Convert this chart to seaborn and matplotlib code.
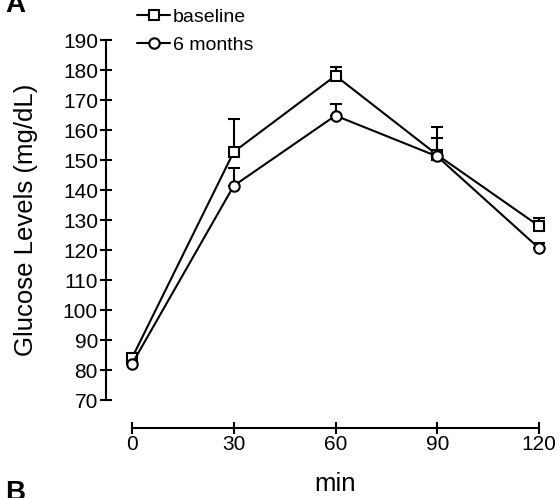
import numpy as np
import pandas as pd
import matplotlib
matplotlib.use("Agg")
import matplotlib.pyplot as plt
from matplotlib.lines import Line2D
import seaborn as sns

# data
minutes = [0, 30, 60, 90, 120]
baseline = [84, 152.7, 178.1, 151.7, 128]
baseline_err = [0, 11, 2.8, 9.2, 2.6]
six_months = [82, 141.4, 164.8, 151.2, 120.6]
six_months_err = [0, 5.9, 3.8, 6, 1.8]
y_ticks = list(range(70, 191, 10))

sns.set_style("ticks")
plt.rcParams['font.family'] = ['Liberation Sans', 'DejaVu Sans']
plt.rcParams['text.color'] = 'black'
plt.rcParams['axes.labelcolor'] = 'black'

df = pd.DataFrame({
    'min': minutes * 2,
    'glucose': baseline + six_months,
    'group': ['baseline'] * 5 + ['6 months'] * 5,
})

fig = plt.figure(figsize=(5.6, 4.98), dpi=100)
ax = fig.add_axes([132 / 560, 98 / 498, 407 / 560, 360 / 498])

markers = {'baseline': 's', '6 months': 'o'}
errs = {'baseline': baseline_err, '6 months': six_months_err}
for name, sub in df.groupby('group', sort=False):
    # upper error bars only
    ax.errorbar(sub['min'], sub['glucose'],
                yerr=[np.zeros(len(sub)), errs[name]],
                fmt='none', ecolor='black', elinewidth=1.5, capsize=4,
                capthick=1.5, clip_on=False, zorder=2)
    sns.lineplot(data=sub, x='min', y='glucose', ax=ax, color='black',
                 linewidth=1.5, marker=markers[name], markersize=7.5,
                 markerfacecolor='white', markeredgecolor='black',
                 markeredgewidth=1.5, clip_on=False, zorder=3, legend=False)

ax.set_xlim(0, 120)
ax.set_ylim(70, 190)
ax.set_xticks(minutes)
ax.set_yticks(y_ticks)
ax.spines['right'].set_visible(False)
ax.spines['top'].set_visible(False)
ax.spines['left'].set_position(('outward', 19))
ax.spines['bottom'].set_position(('outward', 20))
for s in ['left', 'bottom']:
    ax.spines[s].set_linewidth(1.5)
    ax.spines[s].set_color('black')
ax.tick_params(direction='inout', length=9, width=1.5, labelsize=15,
               colors='black', pad=1)
ax.set_xlabel('min', fontsize=18.5, labelpad=13)
ax.set_ylabel('Glucose Levels (mg/dL)', fontsize=18.5, labelpad=18)

handles = [
    Line2D([], [], color='black', lw=1.5, marker='s', markersize=7.5,
           markerfacecolor='white', markeredgewidth=1.5),
    Line2D([], [], color='black', lw=1.5, marker='o', markersize=7.5,
           markerfacecolor='white', markeredgewidth=1.5),
]
fig.legend(handles, ['baseline', '6 months'], loc='upper left',
           bbox_to_anchor=(137 / 560, 1 - 8 / 498), frameon=False,
           fontsize=14, handlelength=1.7, handletextpad=0.15,
           labelspacing=0.55, borderpad=0, borderaxespad=0)

fig.text(0.01, 1 - 12 / 498, 'A', fontsize=20, fontweight='bold',
         va='baseline')
fig.text(0.01, 1 - 480 / 498, 'B', fontsize=20, fontweight='bold',
         va='top')

fig.savefig('out.png', dpi=100)
